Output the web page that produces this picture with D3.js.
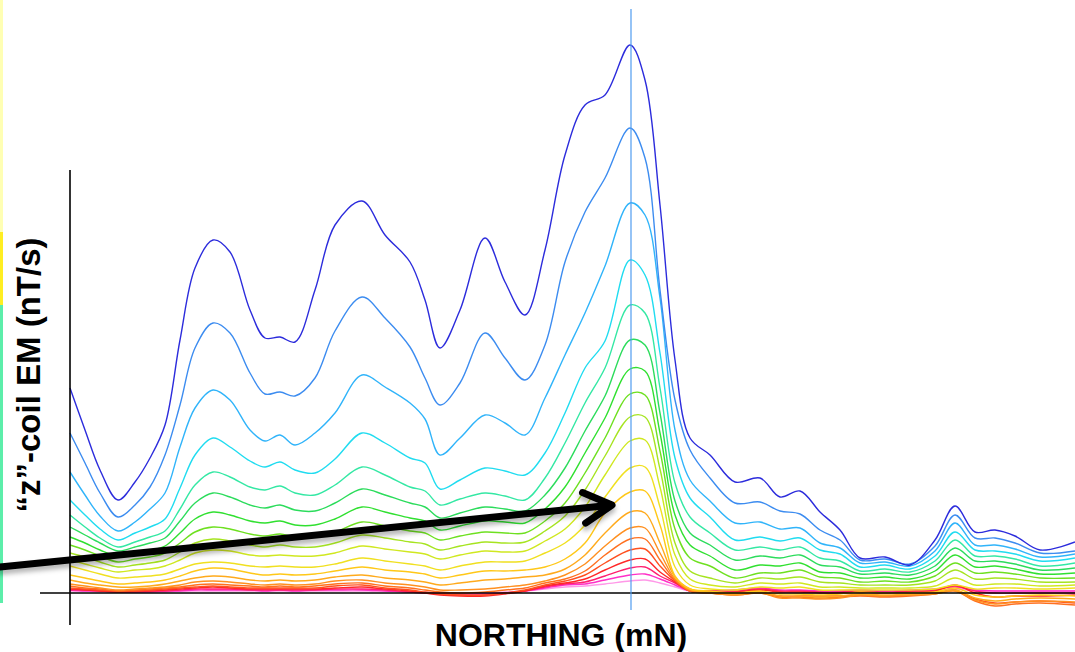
<!DOCTYPE html>
<html>
<head>
<meta charset="utf-8">
<script src="https://cdn.jsdelivr.net/npm/d3@7"></script>
<style>
  body { margin: 0; background: #ffffff; }
  svg { display: block; }
</style>
</head>
<body>
<svg id="chart" width="1075" height="652"></svg>
<script>
// northing of each reading (m, relative to start of line)
var northing = [0, 15, 30, 48, 65, 80, 95, 110, 125, 143, 160, 180, 195, 210, 225, 245, 265, 292, 315, 340,
  355, 370, 390, 415, 435, 455, 475, 495, 515, 535, 560, 575, 590, 605, 620, 640, 665, 690, 710, 730,
  750, 770, 790, 815, 840, 865, 885, 905, 925, 945, 970, 1005];

// z-coil response, one array per time channel (early -> late)
var ch01 = [205,163,123,93,111,135,168,253,325,353,341,283,255,256,251,303,368,392,358,331,293,245,283,355,311,278,
  343,438,488,498,548,513,388,233,155,
  138,111,115,96,102,81,63,35,36,28,53,87,61,63,57,43,51];
var ch02 = [160,130,100,76,88,106,138,188,245,270,260,220,199,201,197,215,262,296,275,246,215,188,210,260,235,213,
  248,331,381,415,465,435,303,193,143,
  115,90,91,82,79,63,53,33,34,29,47,78,55,55,50,40,42];
var ch03 = [121,98,77,62,71,84,100,146,185,203,193,163,152,158,148,160,180,218,206,190,174,138,155,178,170,158,
  195,238,280,327,390,378,295,163,113,
  92,70,71,64,65,50,45,30,31,27,42,70,48,48,44,36,39];
var ch04 = [93,78,64,53,60,66,74,105,138,155,146,132,126,131,123,120,134,160,150,135,130,104,113,125,122,118,
  140,180,225,252,333,318,240,135,95,
  76,53,56,52,55,43,39,26,28,24,37,61,43,42,39,32,35];
var ch05 = [78,66,55,46,51,56,62,84,108,121,116,106,103,107,100,98,108,126,118,106,102,88,94,100,97,93,
  115,150,190,225,288,280,205,110,76,
  60,43,46,43,46,35,32,22,24,21,32,53,37,37,34,27,30];
var ch06 = [66,58,50,42,46,50,55,72,90,100,96,88,85,88,83,82,90,104,98,90,86,75,80,86,84,82,
  98,125,162,197,253,248,180,92,60,
  48,33,37,35,38,28,26,19,20,18,27,45,32,32,29,23,25];
var ch07 = [56,50,43,37,40,43,47,60,74,81,78,72,70,72,68,68,74,86,81,75,72,63,67,72,71,70,
  84,106,140,175,224,222,160,78,48,
  37,23,28,27,30,21,20,15,16,14,22,38,26,27,24,19,20];
var ch08 = [48,43,37,31,34,36,40,50,61,66,64,59,57,59,56,56,61,71,67,62,60,53,57,61,60,60,
  72,90,120,155,199,198,142,64,35,
  27,15,20,20,23,16,15,11,12,11,17,30,20,21,19,15,15];
var ch09 = [40,36,31,26,28,30,33,41,50,54,52,48,46,48,46,46,50,58,55,51,49,43,47,51,50,51,
  62,77,103,137,176,176,124,50,22,
  15,10,15,14,16,11,10,8,8,8,12,23,14,15,14,11,11];
var ch10 = [33,29,25,21,23,24,27,33,40,43,42,38,37,38,37,37,40,47,44,41,39,34,38,42,41,42,
  52,64,86,118,152,153,106,38,14,
  8,6,10,9,10,6,6,5,5,5,7,15,8,9,9,7,8];
var ch11 = [27,23,19,15,16,17,19,24,29,31,30,27,26,27,26,26,29,35,32,29,27,23,27,31,31,32,
  40,50,68,96,125,126,86,26,8,
  4,3,6,5,6,3,3,3,3,3,4,8,4,5,5,4,5];
var ch12 = [18,15,12,9,10,11,13,17,22,25,24,20,18,19,18,19,22,26,23,21,19,15,18,22,22,23,
  26,34,50,80,101,102,68,17,4,
  2,0,2,-1,-1,-2,-1,1,0,0,1,5,-2,-4,-3,-2,-3];
var ch13 = [13,10,8,6,6,7,9,12,15,17,16,13,12,13,12,13,16,18,15,13,11,8,10,13,14,16,
  18,24,38,60,81,80,50,16,4,
  1,-1,1,-3,-3,-4,-3,-1,-2,-1,0,3,-5,-8,-6,-5,-6];
var ch14 = [9,7,5,3,4,5,6,8,11,12,11,9,8,9,8,9,12,13,10,8,6,3,3,4,6,8,
  12,18,29,47,65,65,40,14,3,
  0,-2,0,-5,-5,-6,-5,-2,-3,-2,-1,2,-7,-11,-9,-8,-9];
var ch15 = [7,5,4,2,3,4,5,6,8,9,8,7,6,7,6,7,9,10,7,5,3,1,0,1,3,5,
  10,14,22,38,54,54,33,13,2,
  0,-2,0,-4,-4,-5,-4,-3,-4,-3,-1,2,-8,-13,-11,-10,-12];
var ch16 = [5,4,3,2,2,3,4,5,6,7,6,5,5,5,5,5,7,8,5,3,1,-1,-2,-2,0,3,
  8,12,18,30,43,44,27,12,2,
  0,-1,1,-3,-3,-3,-3,-2,-3,-2,0,3,-6,-10,-9,-8,-10];
var ch17 = [4,3,2,1,2,2,3,4,5,6,5,4,4,4,4,4,5,6,4,2,0,-2,-3,-3,-1,2,
  7,10,14,23,33,34,21,11,2,
  1,1,3,1,1,0,0,1,0,1,2,8,0,-4,-3,-3,-2];
var ch18 = [3,3,2,1,1,2,2,3,4,4,4,3,3,3,3,3,4,4,3,1,0,-1,-2,-2,0,2,
  6,9,11,17,25,26,17,10,2,
  2,2,4,2,2,1,1,2,1,2,3,7,2,0,0,0,0];
var ch19 = [3,2,2,1,1,1,2,2,3,3,3,3,2,3,2,3,3,3,2,1,0,0,-1,-1,0,2,
  5,8,9,13,18,19,14,8,2,
  2,3,5,3,3,2,2,3,2,3,4,6,3,2,2,2,2];
var ch20 = [2,2,1,1,1,1,1,2,2,2,2,2,2,2,2,2,2,2,2,1,1,0,0,0,1,2,
  4,6,7,9,12,13,10,6,2,
  2,2,3,2,2,2,2,3,2,2,3,4,2,2,2,2,2];

var channels = [ch01, ch02, ch03, ch04, ch05, ch06, ch07, ch08, ch09, ch10,
  ch11, ch12, ch13, ch14, ch15, ch16, ch17, ch18, ch19, ch20];

var channelColors = ["#2c2cdc", "#3c8cf0", "#30b4fa", "#20dcf0", "#34e8a4", "#2cdc5c", "#30e030", "#6ee020",
  "#a6e420", "#d0e820", "#f0e020", "#ffc818", "#ffaa1c", "#ff9020", "#ff7020", "#ff5020",
  "#ff2828", "#ff2070", "#ff30c8", "#ff98e8"];

// station picked on the profile and the arrow pointing at it
var pickNorthing = 561;
var arrowTail = { n: -70, v: 26 };
var arrowTip = { n: 542, v: 88 };

var xLabel = "NORTHING (mN)";
var yLabel = "\u201Cz\u201D-coil EM (nT/s)";

//////////////////////////////////////////////////////////////////////////////

var svg = d3.select("#chart");

var xScale = d3.scaleLinear()
  .domain([0, 1005])
  .range([70, 1075]);

var yScale = d3.scaleLinear()
  .domain([0, 548])
  .range([593, 45]);

var defs = svg.append("defs");
var shadow = defs.append("filter")
  .attr("id", "arrowShadow")
  .attr("x", "-5%").attr("y", "-50%")
  .attr("width", "110%").attr("height", "200%");
shadow.append("feDropShadow")
  .attr("dx", 0)
  .attr("dy", 4)
  .attr("stdDeviation", 2.5)
  .attr("flood-color", "#000")
  .attr("flood-opacity", 0.3);

// leftover strip of the slide at the left edge
svg.append("rect").attr("x", 0).attr("y", 0).attr("width", 3).attr("height", 232).attr("fill", "#ffffb4");
svg.append("rect").attr("x", 0).attr("y", 232).attr("width", 3).attr("height", 73).attr("fill", "#ffee22");
svg.append("rect").attr("x", 0).attr("y", 305).attr("width", 3).attr("height", 298).attr("fill", "#5ceeaa");

var line = d3.line()
  .x(function(d, i) {
    return xScale(northing[i]);
  })
  .y(function(d) {
    return yScale(d);
  })
  .curve(d3.curveCatmullRom.alpha(0.5));

// late channels first so the early ones sit on top
svg.append("g")
  .selectAll("path")
  .data(channels.slice().reverse())
  .enter()
  .append("path")
  .attr("d", line)
  .attr("fill", "none")
  .attr("stroke", function(d, i) {
    return channelColors[channels.length - 1 - i];
  })
  .attr("stroke-width", 1.4)
  .attr("stroke-linejoin", "round");

// axis lines (no ticks on the original)
svg.append("line")
  .attr("x1", xScale(-30))
  .attr("x2", xScale(1005))
  .attr("y1", yScale(0))
  .attr("y2", yScale(0))
  .attr("stroke", "#000")
  .attr("stroke-width", 1.6);

svg.append("line")
  .attr("x1", xScale(0))
  .attr("x2", xScale(0))
  .attr("y1", yScale(423))
  .attr("y2", yScale(-32))
  .attr("stroke", "#000")
  .attr("stroke-width", 1.6);

// picked station
svg.append("line")
  .attr("x1", xScale(pickNorthing))
  .attr("x2", xScale(pickNorthing))
  .attr("y1", 9)
  .attr("y2", yScale(-17))
  .attr("stroke", "#4f9cf0")
  .attr("stroke-width", 1.2);

// arrow
var ax0 = xScale(arrowTail.n), ay0 = yScale(arrowTail.v);
var ax1 = xScale(arrowTip.n), ay1 = yScale(arrowTip.v);
var ang = Math.atan2(ay1 - ay0, ax1 - ax0);
var headLen = 32, headAng = 0.5;

var arrow = svg.append("g")
  .attr("filter", "url(#arrowShadow)")
  .attr("stroke", "#000")
  .attr("stroke-width", 7)
  .attr("stroke-linecap", "round")
  .attr("stroke-linejoin", "round")
  .attr("fill", "none");

arrow.append("line")
  .attr("x1", ax0).attr("y1", ay0)
  .attr("x2", ax1 - 4 * Math.cos(ang)).attr("y2", ay1 - 4 * Math.sin(ang));

arrow.append("path")
  .attr("d", "M" + (ax1 - headLen * Math.cos(ang - headAng)) + "," + (ay1 - headLen * Math.sin(ang - headAng)) +
    "L" + ax1 + "," + ay1 +
    "L" + (ax1 - headLen * Math.cos(ang + headAng)) + "," + (ay1 - headLen * Math.sin(ang + headAng)));

// text label for the x axis
svg.append("text")
  .attr("x", 561)
  .attr("y", 646)
  .style("text-anchor", "middle")
  .style("font-family", "'Liberation Sans', Arial, sans-serif")
  .style("font-weight", "bold")
  .style("font-size", "32px")
  .text(xLabel);

// text label for the y axis
svg.append("text")
  .attr("transform", "translate(40,375) rotate(-90)")
  .style("text-anchor", "middle")
  .style("font-family", "'Liberation Sans', Arial, sans-serif")
  .style("font-weight", "bold")
  .style("font-size", "33px")
  .text(yLabel);
</script>
</body>
</html>
